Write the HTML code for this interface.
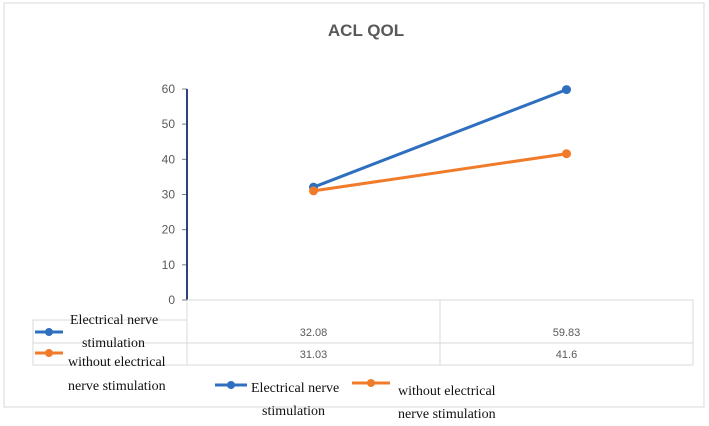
<!DOCTYPE html>
<html><head><meta charset="utf-8"><style>
body{margin:0;background:#fff;width:709px;height:426px;overflow:hidden}
svg{display:block}
.s{font-family:"Liberation Sans",sans-serif}
.r{font-family:"Liberation Serif",serif;font-size:14px;fill:#111}
</style></head><body>
<svg width="709" height="426">
<rect x="4" y="3" width="700" height="404" fill="#fff" stroke="#d9d9d9"/>
<text x="366" y="36" text-anchor="middle" class="s" font-size="17" font-weight="bold" fill="#595959">ACL QOL</text>
<g id="g"></g>
</svg>
<script>
const categories=["",""];
const seriesNames=["Electrical nerve stimulation","without electrical nerve stimulation"];
const seriesA=[32.08,59.83];
const seriesB=[31.03,41.6];
const yTicks=[0,10,20,30,40,50,60];
const colors=["#2e6fc0","#f07c2b"];
const NS="http://www.w3.org/2000/svg";
const g=document.getElementById('g');
const x0=187,x1=693,y0=300,y1=89,yMax=60;
const y=v=>y0-(v/yMax)*(y0-y1);
const x=i=>x0+(i+0.5)*(x1-x0)/categories.length;
function mk(t,a,p){const e=document.createElementNS(NS,t);for(const k in a)e.setAttribute(k,a[k]);(p||g).appendChild(e);return e;}
// gridless axis
yTicks.forEach(v=>{
 const t=mk('text',{x:175,y:y(v)+4,'text-anchor':'end',class:'s','font-size':12,fill:'#595959'});t.textContent=v;
 
 
 const l=mk('line',{x1:182,x2:187,y1:y(v),y2:y(v),stroke:'#7f7f7f'});
 
 
});
const ax=mk('line',{x1:x0,x2:x0,y1:y1,y2:y0,stroke:'#2f3f7f','stroke-width':2});


// table
const tb=mk('g',{});


mk('path',{d:`M${x0} 300H${x1}V365H33V320H${x0}ZM33 343H${x1}M${x0} 300V365M440 300V365`,fill:'none',stroke:'#d9d9d9'},tb);
[seriesA,seriesB].forEach((s,si)=>s.forEach((v,i)=>{
 const t=mk('text',{x:x(i),y:336+si*22,'text-anchor':'middle',class:'s','font-size':11,fill:'#595959'},tb);t.textContent=v;
 
 
}));
// table legend keys
function key(cx,cy,c){mk('line',{x1:cx-14,x2:cx+14,y1:cy,y2:cy,stroke:c,'stroke-width':3});mk('circle',{cx:cx,cy:cy,r:4,fill:c});}
key(49,332,colors[0]);key(49,353,colors[1]);
[["Electrical nerve",70,324],["stimulation",82,347],["without electrical",68,366],["nerve stimulation",68,390]].forEach(a=>{
 const t=mk('text',{x:a[1],y:a[2],class:'r'});t.textContent=a[0];
 
 
});
// series
[seriesA,seriesB].forEach((s,si)=>{
 const p=mk('polyline',{points:s.map((v,i)=>x(i)+','+y(v)).join(' '),fill:'none',stroke:colors[si],'stroke-width':3});
 
 
 s.forEach((v,i)=>{const c=mk('circle',{cx:x(i),cy:y(v),r:4.5,fill:colors[si]});
  
  });
});
// legend
const lg=mk('g',{});


mk('line',{x1:215,x2:247,y1:385,y2:385,stroke:colors[0],'stroke-width':3},lg);mk('circle',{cx:231,cy:385,r:4,fill:colors[0]},lg);
mk('line',{x1:352,x2:390,y1:383,y2:383,stroke:colors[1],'stroke-width':3},lg);mk('circle',{cx:371,cy:383,r:4,fill:colors[1]},lg);
[["Electrical nerve",251,392],["stimulation",262,415],["without electrical",398,395],["nerve stimulation",398,418]].forEach(a=>{
 const t=mk('text',{x:a[1],y:a[2],class:'r'},lg);t.textContent=a[0];
 
 
});
</script>
</body></html>
